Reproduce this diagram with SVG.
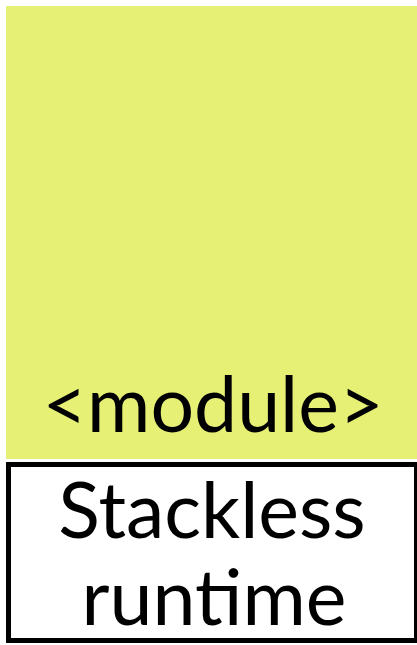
<svg xmlns="http://www.w3.org/2000/svg" width="417" height="645" viewBox="0 0 417 645">
<style>
.t{font-family:Lato,"Open Sans",sans-serif;font-size:77px;fill:#000;text-anchor:middle}
</style>
<rect width="417" height="645" fill="#fff"/>
<g id="module">
<rect x="6" y="6" width="411" height="453" fill="#e6f074"/>
<text class="t" x="213" y="432">&lt;module&gt;</text>
</g>
<g id="runtime">
<rect x="8.5" y="464.5" width="408" height="176" fill="#fff" stroke="#000" stroke-width="5"/>
<text class="t" x="212" y="538">Stackless</text>
<text class="t" x="214" y="625">runtime</text>
</g>
<g id="connectors"/>
</svg>
